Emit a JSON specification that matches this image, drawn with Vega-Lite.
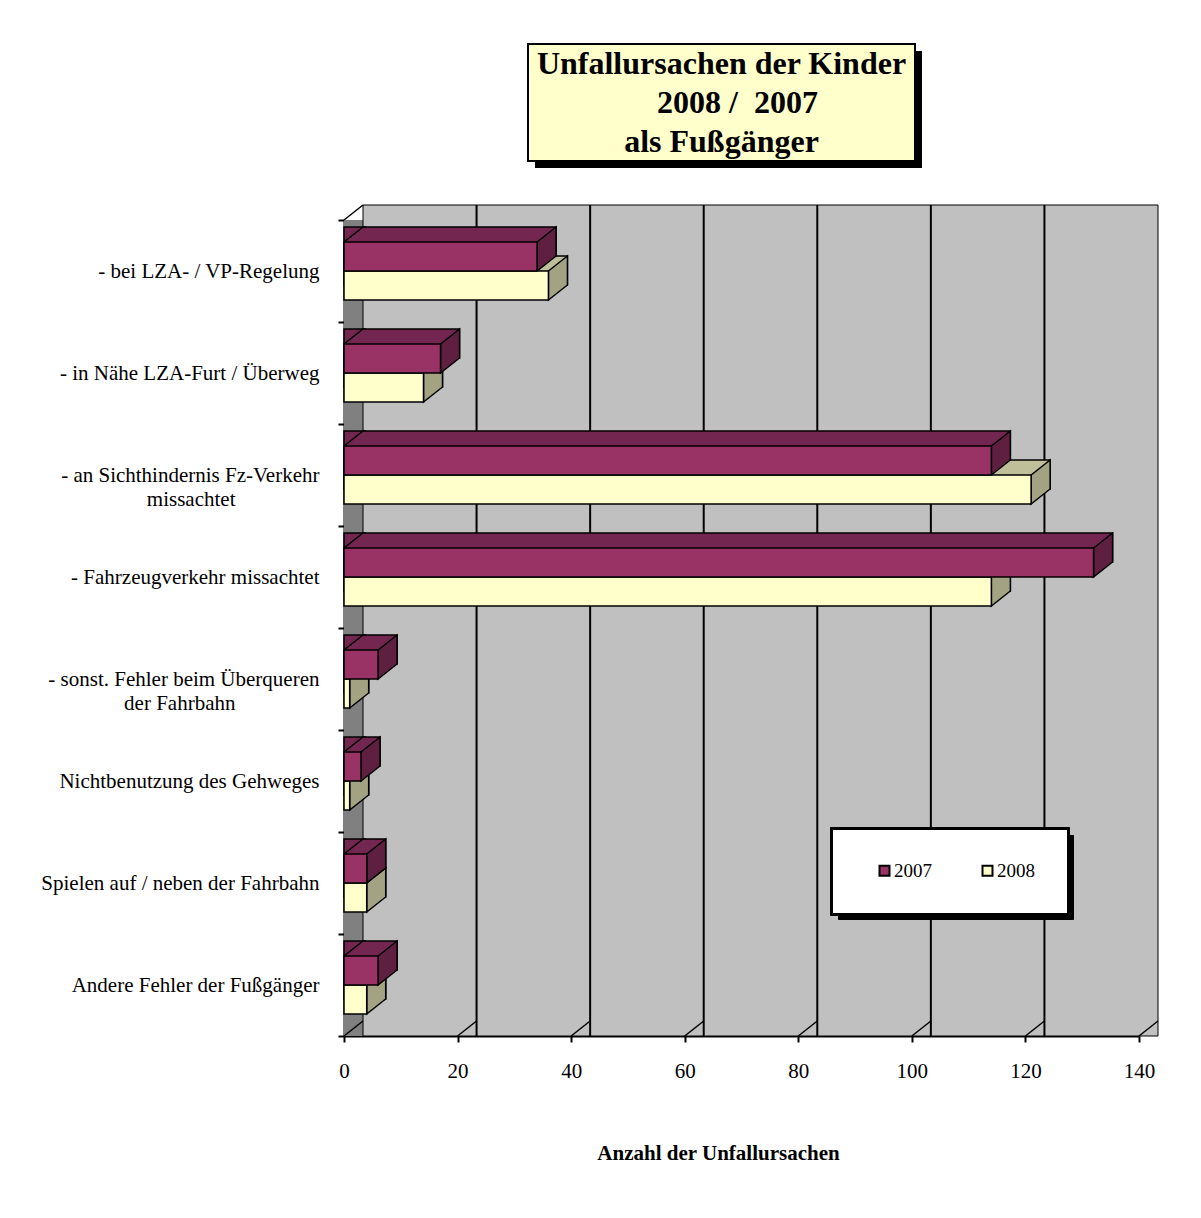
{
  "$schema": "https://vega.github.io/schema/vega-lite/v6.json",
  "padding": {"left": 40, "top": 43, "right": 10, "bottom": 10},
  "background": "white",
  "spacing": 36,
  "datasets": {
    "bars": [
      {"cat": "- bei LZA- / VP-Regelung", "year": "2007", "n": 34},
      {"cat": "- bei LZA- / VP-Regelung", "year": "2008", "n": 36},
      {"cat": "- in Nähe LZA-Furt / Überweg", "year": "2007", "n": 17},
      {"cat": "- in Nähe LZA-Furt / Überweg", "year": "2008", "n": 14},
      {"cat": "- an Sichthindernis Fz-Verkehr\nmissachtet", "year": "2007", "n": 114},
      {"cat": "- an Sichthindernis Fz-Verkehr\nmissachtet", "year": "2008", "n": 121},
      {"cat": "- Fahrzeugverkehr missachtet", "year": "2007", "n": 132},
      {"cat": "- Fahrzeugverkehr missachtet", "year": "2008", "n": 114},
      {"cat": "- sonst. Fehler beim Überqueren\nder Fahrbahn", "year": "2007", "n": 6},
      {"cat": "- sonst. Fehler beim Überqueren\nder Fahrbahn", "year": "2008", "n": 1},
      {"cat": "Nichtbenutzung des Gehweges", "year": "2007", "n": 3},
      {"cat": "Nichtbenutzung des Gehweges", "year": "2008", "n": 1},
      {"cat": "Spielen auf / neben der Fahrbahn", "year": "2007", "n": 4},
      {"cat": "Spielen auf / neben der Fahrbahn", "year": "2008", "n": 4},
      {"cat": "Andere Fehler der Fußgänger", "year": "2007", "n": 6},
      {"cat": "Andere Fehler der Fußgänger", "year": "2008", "n": 4}
    ],
    "ticks": [{"t": 0}, {"t": 20}, {"t": 40}, {"t": 60}, {"t": 80}, {"t": 100}, {"t": 120}, {"t": 140}],
    "titlelines": [
      {"n": 1, "line": "Unfallursachen der Kinder"},
      {"n": 2, "line": "\u200b\u00a0\u00a0\u00a0\u00a02008 /\u00a0\u00a02007"},
      {"n": 3, "line": "als Fußgänger"}
    ]
  },
  "vconcat": [
    {
      "bounds": "flush",
      "spacing": 0,
      "hconcat": [
        {
          "width": 184, "height": 117,
          "view": {"fill": "white", "stroke": null},
          "data": {"values": [{}]},
          "mark": {"type": "text"},
          "encoding": {"text": {"value": ""}}
        },
        {
          "width": 387, "height": 117,
          "layer": [
            {
              "data": {"values": [{}]},
              "mark": {"type": "rect", "fill": "black", "xOffset": 7, "x2Offset": 7, "yOffset": 7, "y2Offset": 7},
              "encoding": {
                "x": {"datum": 0, "type": "quantitative", "scale": {"domain": [0, 1], "nice": false}, "axis": null},
                "x2": {"datum": 1},
                "y": {"datum": 0, "type": "quantitative", "scale": {"domain": [0, 1], "nice": false}, "axis": null},
                "y2": {"datum": 1}
              }
            },
            {
              "data": {"values": [{}]},
              "mark": {"type": "rect", "fill": "#FFFFCC", "stroke": "black", "strokeWidth": 2},
              "encoding": {
                "x": {"datum": 0, "type": "quantitative", "scale": {"domain": [0, 1], "nice": false}, "axis": null},
                "x2": {"datum": 1},
                "y": {"datum": 0, "type": "quantitative", "scale": {"domain": [0, 1], "nice": false}, "axis": null},
                "y2": {"datum": 1}
              }
            },
            {
              "data": {"name": "titlelines"},
              "mark": {"type": "text", "font": "Liberation Serif", "fontSize": 32, "fontWeight": "bold", "color": "black", "baseline": "middle"},
              "encoding": {
                "y": {"field": "n", "type": "ordinal", "axis": null, "scale": {"paddingInner": 0, "paddingOuter": 0.2}},
                "text": {"field": "line"}
              }
            }
          ],
          "resolve": {"scale": {"y": "independent"}}
        }
      ]
    },
    {
      "width": 795, "height": 816,
      "data": {"name": "bars"},
      "layer": [
        {
          "data": {"values": [{}]},
          "mark": {"type": "rect", "fill": "#808080", "x2Offset": 19},
          "encoding": {
            "x": {"datum": 0, "type": "quantitative", "scale": {"domain": [0, 140], "nice": false}, "axis": {"values": [0, 20, 40, 60, 80, 100, 120, 140], "title": "Anzahl der Unfallursachen", "titleX": 374, "titleY": 117, "titleBaseline": "middle", "titleAlign": "center"}},
            "x2": {"datum": 140}
          }
        },
        {
          "data": {"values": [{}]},
          "mark": {"type": "rect", "fill": "#C0C0C0", "stroke": "black", "strokeWidth": 1, "xOffset": 19, "x2Offset": 19, "yOffset": -15, "y2Offset": -15},
          "encoding": {
            "x": {"datum": 0, "type": "quantitative", "scale": {"domain": [0, 140], "nice": false}, "axis": {"values": [0, 20, 40, 60, 80, 100, 120, 140], "title": "Anzahl der Unfallursachen", "titleX": 374, "titleY": 117, "titleBaseline": "middle", "titleAlign": "center"}},
            "x2": {"datum": 140}
          }
        },
        {
          "data": {"name": "ticks"},
          "transform": [{"filter": "datum.t > 0 && datum.t < 140"}],
          "mark": {"type": "rule", "stroke": "black", "strokeWidth": 2, "xOffset": 19, "yOffset": -15, "y2Offset": -15},
          "encoding": {
            "x": {"field": "t", "type": "quantitative", "scale": {"domain": [0, 140], "nice": false}, "axis": {"values": [0, 20, 40, 60, 80, 100, 120, 140], "title": "Anzahl der Unfallursachen", "titleX": 374, "titleY": 117, "titleBaseline": "middle", "titleAlign": "center"}}
          }
        },
        {
          "data": {"name": "ticks"},
          "mark": {"type": "rule", "stroke": "black", "strokeWidth": 1.5, "x2Offset": 19, "y2Offset": -15},
          "encoding": {
            "x": {"field": "t", "type": "quantitative", "scale": {"domain": [0, 140], "nice": false}, "axis": {"values": [0, 20, 40, 60, 80, 100, 120, 140], "title": "Anzahl der Unfallursachen", "titleX": 374, "titleY": 117, "titleBaseline": "middle", "titleAlign": "center"}},
            "x2": {"field": "t"},
            "y": {"value": "height"},
            "y2": {"value": "height"}
          }
        },
        {
          "data": {"values": [{}]},
          "mark": {"type": "rule", "stroke": "black", "strokeWidth": 1.5, "x2Offset": 19, "y2Offset": -15},
          "encoding": {
            "x": {"datum": 0, "type": "quantitative", "scale": {"domain": [0, 140], "nice": false}, "axis": {"values": [0, 20, 40, 60, 80, 100, 120, 140], "title": "Anzahl der Unfallursachen", "titleX": 374, "titleY": 117, "titleBaseline": "middle", "titleAlign": "center"}},
            "x2": {"datum": 0},
            "y": {"value": 0},
            "y2": {"value": 0}
          }
        },
        {
          "transform": [{"filter": "datum.year == '2008'"}],
          "mark": {"type": "bar", "height": 29, "yOffset": -0.5, "xOffset": 19, "x2Offset": 19, "stroke": "black", "strokeWidth": 1.5, "fill": "#BFBF99"},
          "encoding": {
            "x": {"field": "n", "type": "quantitative", "stack": null, "scale": {"domain": [0, 140], "nice": false}, "axis": {"values": [0, 20, 40, 60, 80, 100, 120, 140], "title": "Anzahl der Unfallursachen", "titleX": 374, "titleY": 117, "titleBaseline": "middle", "titleAlign": "center"}},
            "y": {"field": "cat", "type": "nominal", "sort": ["- bei LZA- / VP-Regelung", "- in Nähe LZA-Furt / Überweg", "- an Sichthindernis Fz-Verkehr\nmissachtet", "- Fahrzeugverkehr missachtet", "- sonst. Fehler beim Überqueren\nder Fahrbahn", "Nichtbenutzung des Gehweges", "Spielen auf / neben der Fahrbahn", "Andere Fehler der Fußgänger"], "scale": {"paddingInner": 0, "paddingOuter": 0}, "axis": {"title": null, "tickBand": "extent", "labelExpr": "indexof(datum.label, '\\n') >= 0 ? [split(datum.label, '\\n')[0], split(datum.label, '\\n')[1] + '\u00a0\u00a0\u00a0\u00a0\u00a0\u00a0\u00a0\u00a0\u00a0\u00a0\u00a0\u00a0\u00a0\u00a0\u00a0\u00a0\u200b'] : datum.label", "labelLineHeight": 24, "labelLimit": 400, "labelPadding": 19}}
          }
        },
        {
          "transform": [{"filter": "datum.year == '2007'"}],
          "mark": {"type": "bar", "height": 29, "yOffset": -29.5, "xOffset": 19, "x2Offset": 19, "stroke": "black", "strokeWidth": 1.5, "fill": "#732650"},
          "encoding": {
            "x": {"field": "n", "type": "quantitative", "stack": null, "scale": {"domain": [0, 140], "nice": false}, "axis": {"values": [0, 20, 40, 60, 80, 100, 120, 140], "title": "Anzahl der Unfallursachen", "titleX": 374, "titleY": 117, "titleBaseline": "middle", "titleAlign": "center"}},
            "y": {"field": "cat", "type": "nominal", "sort": ["- bei LZA- / VP-Regelung", "- in Nähe LZA-Furt / Überweg", "- an Sichthindernis Fz-Verkehr\nmissachtet", "- Fahrzeugverkehr missachtet", "- sonst. Fehler beim Überqueren\nder Fahrbahn", "Nichtbenutzung des Gehweges", "Spielen auf / neben der Fahrbahn", "Andere Fehler der Fußgänger"], "scale": {"paddingInner": 0, "paddingOuter": 0}, "axis": {"title": null, "tickBand": "extent", "labelExpr": "indexof(datum.label, '\\n') >= 0 ? [split(datum.label, '\\n')[0], split(datum.label, '\\n')[1] + '\u00a0\u00a0\u00a0\u00a0\u00a0\u00a0\u00a0\u00a0\u00a0\u00a0\u00a0\u00a0\u00a0\u00a0\u00a0\u00a0\u200b'] : datum.label", "labelLineHeight": 24, "labelLimit": 400, "labelPadding": 19}}
          }
        },
        {
          "mark": {"type": "point", "shape": "M0,-14.5L19,-29.5L21.5,-29.5L21.5,-14.5Z", "size": 4, "filled": true, "strokeWidth": 0, "opacity": 1},
          "encoding": {
            "x": {"datum": 0, "type": "quantitative", "scale": {"domain": [0, 140], "nice": false}, "axis": {"values": [0, 20, 40, 60, 80, 100, 120, 140], "title": "Anzahl der Unfallursachen", "titleX": 374, "titleY": 117, "titleBaseline": "middle", "titleAlign": "center"}},
            "y": {"field": "cat", "type": "nominal", "sort": ["- bei LZA- / VP-Regelung", "- in Nähe LZA-Furt / Überweg", "- an Sichthindernis Fz-Verkehr\nmissachtet", "- Fahrzeugverkehr missachtet", "- sonst. Fehler beim Überqueren\nder Fahrbahn", "Nichtbenutzung des Gehweges", "Spielen auf / neben der Fahrbahn", "Andere Fehler der Fußgänger"], "scale": {"paddingInner": 0, "paddingOuter": 0}, "axis": {"title": null, "tickBand": "extent", "labelExpr": "indexof(datum.label, '\\n') >= 0 ? [split(datum.label, '\\n')[0], split(datum.label, '\\n')[1] + '\u00a0\u00a0\u00a0\u00a0\u00a0\u00a0\u00a0\u00a0\u00a0\u00a0\u00a0\u00a0\u00a0\u00a0\u00a0\u00a0\u200b'] : datum.label", "labelLineHeight": 24, "labelLimit": 400, "labelPadding": 19}},
            "yOffset": {"field": "year", "type": "nominal", "scale": {"paddingInner": 0, "paddingOuter": 0.7586}},
            "fill": {"condition": {"test": "datum.year == '2007'", "value": "#732650"}, "value": "#BFBF99"},
            "order": {"field": "year", "sort": "descending"}
          }
        },
        {
          "mark": {"type": "point", "shape": "M0,-14.5L19,-29.5L22,-29.5", "size": 4, "filled": false, "stroke": "black", "strokeWidth": 1.5, "opacity": 1},
          "encoding": {
            "x": {"datum": 0, "type": "quantitative", "scale": {"domain": [0, 140], "nice": false}, "axis": {"values": [0, 20, 40, 60, 80, 100, 120, 140], "title": "Anzahl der Unfallursachen", "titleX": 374, "titleY": 117, "titleBaseline": "middle", "titleAlign": "center"}},
            "y": {"field": "cat", "type": "nominal", "sort": ["- bei LZA- / VP-Regelung", "- in Nähe LZA-Furt / Überweg", "- an Sichthindernis Fz-Verkehr\nmissachtet", "- Fahrzeugverkehr missachtet", "- sonst. Fehler beim Überqueren\nder Fahrbahn", "Nichtbenutzung des Gehweges", "Spielen auf / neben der Fahrbahn", "Andere Fehler der Fußgänger"], "scale": {"paddingInner": 0, "paddingOuter": 0}, "axis": {"title": null, "tickBand": "extent", "labelExpr": "indexof(datum.label, '\\n') >= 0 ? [split(datum.label, '\\n')[0], split(datum.label, '\\n')[1] + '\u00a0\u00a0\u00a0\u00a0\u00a0\u00a0\u00a0\u00a0\u00a0\u00a0\u00a0\u00a0\u00a0\u00a0\u00a0\u00a0\u200b'] : datum.label", "labelLineHeight": 24, "labelLimit": 400, "labelPadding": 19}},
            "yOffset": {"field": "year", "type": "nominal", "scale": {"paddingInner": 0, "paddingOuter": 0.7586}},
            "order": {"field": "year", "sort": "descending"}
          }
        },
        {
          "mark": {"type": "point", "shape": "M0,-14.5L19,-29.5L19,-0.5L0,14.5Z", "size": 4, "filled": true, "stroke": "black", "strokeWidth": 1.5, "opacity": 1},
          "encoding": {
            "x": {"field": "n", "type": "quantitative", "stack": null, "scale": {"domain": [0, 140], "nice": false}, "axis": {"values": [0, 20, 40, 60, 80, 100, 120, 140], "title": "Anzahl der Unfallursachen", "titleX": 374, "titleY": 117, "titleBaseline": "middle", "titleAlign": "center"}},
            "y": {"field": "cat", "type": "nominal", "sort": ["- bei LZA- / VP-Regelung", "- in Nähe LZA-Furt / Überweg", "- an Sichthindernis Fz-Verkehr\nmissachtet", "- Fahrzeugverkehr missachtet", "- sonst. Fehler beim Überqueren\nder Fahrbahn", "Nichtbenutzung des Gehweges", "Spielen auf / neben der Fahrbahn", "Andere Fehler der Fußgänger"], "scale": {"paddingInner": 0, "paddingOuter": 0}, "axis": {"title": null, "tickBand": "extent", "labelExpr": "indexof(datum.label, '\\n') >= 0 ? [split(datum.label, '\\n')[0], split(datum.label, '\\n')[1] + '\u00a0\u00a0\u00a0\u00a0\u00a0\u00a0\u00a0\u00a0\u00a0\u00a0\u00a0\u00a0\u00a0\u00a0\u00a0\u00a0\u200b'] : datum.label", "labelLineHeight": 24, "labelLimit": 400, "labelPadding": 19}},
            "yOffset": {"field": "year", "type": "nominal", "scale": {"paddingInner": 0, "paddingOuter": 0.7586}},
            "fill": {"condition": {"test": "datum.year == '2007'", "value": "#5E1F40"}, "value": "#A3A384"},
            "order": {"field": "year", "sort": "descending"}
          }
        },
        {
          "mark": {"type": "bar", "stroke": "black", "strokeWidth": 1.5},
          "encoding": {
            "x": {"field": "n", "type": "quantitative", "stack": null, "scale": {"domain": [0, 140], "nice": false}, "axis": {"values": [0, 20, 40, 60, 80, 100, 120, 140], "title": "Anzahl der Unfallursachen", "titleX": 374, "titleY": 117, "titleBaseline": "middle", "titleAlign": "center"}},
            "y": {"field": "cat", "type": "nominal", "sort": ["- bei LZA- / VP-Regelung", "- in Nähe LZA-Furt / Überweg", "- an Sichthindernis Fz-Verkehr\nmissachtet", "- Fahrzeugverkehr missachtet", "- sonst. Fehler beim Überqueren\nder Fahrbahn", "Nichtbenutzung des Gehweges", "Spielen auf / neben der Fahrbahn", "Andere Fehler der Fußgänger"], "scale": {"paddingInner": 0, "paddingOuter": 0}, "axis": {"title": null, "tickBand": "extent", "labelExpr": "indexof(datum.label, '\\n') >= 0 ? [split(datum.label, '\\n')[0], split(datum.label, '\\n')[1] + '\u00a0\u00a0\u00a0\u00a0\u00a0\u00a0\u00a0\u00a0\u00a0\u00a0\u00a0\u00a0\u00a0\u00a0\u00a0\u00a0\u200b'] : datum.label", "labelLineHeight": 24, "labelLimit": 400, "labelPadding": 19}},
            "yOffset": {"field": "year", "type": "nominal", "scale": {"paddingInner": 0, "paddingOuter": 0.7586}},
            "color": {"field": "year", "type": "nominal", "scale": {"range": ["#993366", "#FFFFCC"]}, "legend": {"orient": "none", "legendX": 488, "legendY": 785, "direction": "horizontal", "title": null, "fillColor": "white", "strokeColor": "black", "padding": 32, "symbolType": "square", "symbolSize": 100, "symbolStrokeColor": "black", "symbolStrokeWidth": 2, "symbolOffset": 11, "labelFont": "Liberation Serif", "labelFontSize": 19, "labelColor": "black", "labelOffset": 0, "columnPadding": 35, "zindex": 3}},
            "order": {"field": "year", "sort": "descending"}
          }
        },
        {
          "mark": {"type": "point", "opacity": 0, "filled": true},
          "encoding": {
            "x": {"field": "n", "type": "quantitative", "stack": null, "scale": {"domain": [0, 140], "nice": false}, "axis": {"values": [0, 20, 40, 60, 80, 100, 120, 140], "title": "Anzahl der Unfallursachen", "titleX": 374, "titleY": 117, "titleBaseline": "middle", "titleAlign": "center"}},
            "y": {"field": "cat", "type": "nominal", "sort": ["- bei LZA- / VP-Regelung", "- in Nähe LZA-Furt / Überweg", "- an Sichthindernis Fz-Verkehr\nmissachtet", "- Fahrzeugverkehr missachtet", "- sonst. Fehler beim Überqueren\nder Fahrbahn", "Nichtbenutzung des Gehweges", "Spielen auf / neben der Fahrbahn", "Andere Fehler der Fußgänger"], "scale": {"paddingInner": 0, "paddingOuter": 0}, "axis": {"title": null, "tickBand": "extent", "labelExpr": "indexof(datum.label, '\\n') >= 0 ? [split(datum.label, '\\n')[0], split(datum.label, '\\n')[1] + '\u00a0\u00a0\u00a0\u00a0\u00a0\u00a0\u00a0\u00a0\u00a0\u00a0\u00a0\u00a0\u00a0\u00a0\u00a0\u00a0\u200b'] : datum.label", "labelLineHeight": 24, "labelLimit": 400, "labelPadding": 19}},
            "yOffset": {"field": "year", "type": "nominal", "scale": {"paddingInner": 0, "paddingOuter": 0.7586}},
            "shape": {"field": "year", "type": "nominal", "scale": {"domain": ["2007", "2008"]}, "legend": {"orient": "none", "legendX": 494, "legendY": 791, "direction": "horizontal", "title": null, "fillColor": "black", "strokeColor": "black", "padding": 32, "symbolSize": 100, "symbolFillColor": "black", "symbolStrokeColor": "black", "symbolStrokeWidth": 2, "symbolOffset": 49, "labelFont": "Liberation Serif", "labelFontSize": 19, "labelColor": "black", "labelOffset": 0, "columnPadding": 35, "labelExpr": "''", "zindex": 1}},
            "size": {"field": "year", "type": "nominal", "scale": {"domain": ["2008", "2007"], "range": [100, 100]}, "legend": {"orient": "none", "legendX": 486, "legendY": 783, "direction": "horizontal", "title": null, "fillColor": "black", "strokeColor": "black", "padding": 34, "symbolFillColor": "black", "symbolStrokeColor": "black", "symbolStrokeWidth": 2, "symbolOffset": 49, "labelFont": "Liberation Serif", "labelFontSize": 19, "labelColor": "black", "labelOffset": 0, "columnPadding": 35, "labelExpr": "''", "zindex": 2}}
          }
        }
      ]
    }
  ],
  "config": {
    "view": {"stroke": null},
    "axis": {"domainColor": "black", "domainWidth": 2, "tickColor": "black", "tickWidth": 2, "tickSize": 6, "labelColor": "black", "labelFont": "Liberation Serif", "labelFontSize": 21, "titleFont": "Liberation Serif", "titleFontSize": 21, "titleFontWeight": "bold", "titleColor": "black", "grid": false, "zindex": 1},
    "axisX": {"labelPadding": 18, "labelFlush": false}
  }
}
